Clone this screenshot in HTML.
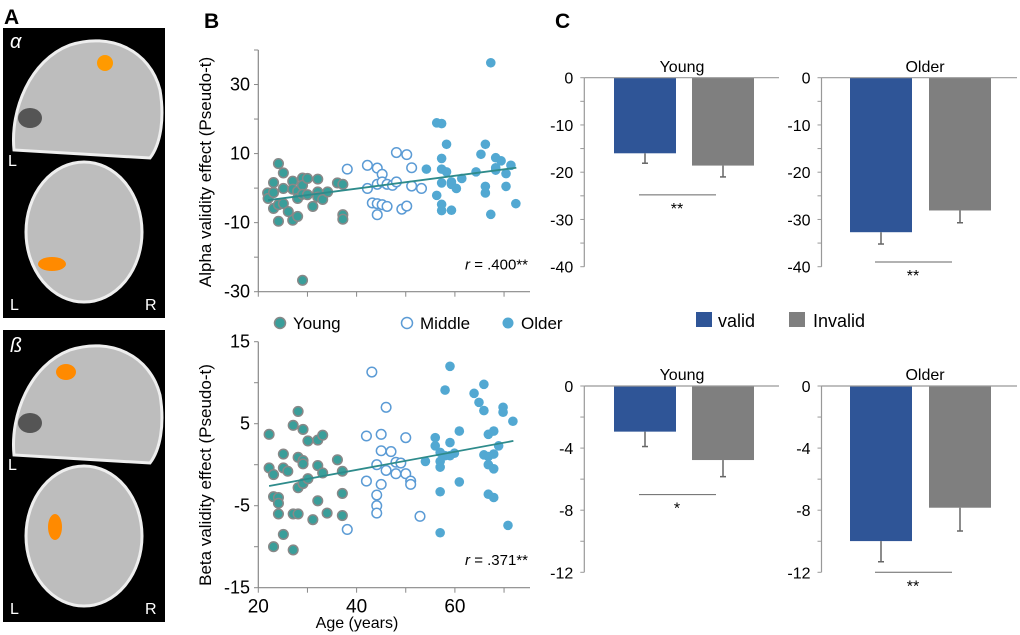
<!DOCTYPE html>
<html><head><meta charset="utf-8"><style>
html,body{margin:0;padding:0;background:#fff;}
svg{display:block;font-family:"Liberation Sans",sans-serif;}
</style></head><body>
<svg id="fig" width="1020" height="635" viewBox="0 0 1020 635" xmlns="http://www.w3.org/2000/svg">
<g>
 <text x="4" y="24" font-size="21" font-weight="bold">A</text>
 <rect x="3" y="28" width="162" height="290" fill="#000"/>
 <path d="M14,150 C10,110 30,60 70,45 C110,32 150,50 160,90 C165,120 160,145 150,158 L14,150Z" fill="#bdbdbd" stroke="#eee" stroke-width="3"/>
 <ellipse cx="30" cy="118" rx="12" ry="10" fill="#555"/>
 <ellipse cx="105" cy="63" rx="8" ry="8" fill="#ff9a00"/>
 <ellipse cx="84" cy="232" rx="58" ry="70" fill="#bdbdbd" stroke="#eee" stroke-width="3"/>
 <ellipse cx="52" cy="264" rx="14" ry="7" fill="#ff8a00"/>
 <text x="10" y="48" font-size="20" font-style="italic" fill="#fff">α</text>
 <text x="8" y="166" font-size="16" fill="#fff">L</text>
 <text x="10" y="310" font-size="16" fill="#fff">L</text>
 <text x="145" y="310" font-size="16" fill="#fff">R</text>
 <rect x="3" y="330" width="162" height="292" fill="#000"/>
 <path d="M14,455 C10,415 30,365 70,350 C110,337 150,355 160,395 C165,425 160,450 150,463 L14,455Z" fill="#bdbdbd" stroke="#eee" stroke-width="3"/>
 <ellipse cx="30" cy="423" rx="12" ry="10" fill="#555"/>
 <ellipse cx="66" cy="372" rx="10" ry="8" fill="#ff8a00"/>
 <ellipse cx="84" cy="536" rx="58" ry="70" fill="#bdbdbd" stroke="#eee" stroke-width="3"/>
 <ellipse cx="55" cy="527" rx="7" ry="13" fill="#ff8a00"/>
 <text x="10" y="352" font-size="20" font-style="italic" fill="#fff">ß</text>
 <text x="8" y="470" font-size="16" fill="#fff">L</text>
 <text x="10" y="614" font-size="16" fill="#fff">L</text>
 <text x="145" y="614" font-size="16" fill="#fff">R</text>
</g>
<text x="204" y="28" font-size="21" font-weight="bold">B</text>
<text x="555" y="28" font-size="21" font-weight="bold">C</text>
<g id="scatter"></g>
<g id="bars"></g>
<g>
 <circle cx="280" cy="323" r="5.5" fill="#3a9e9a" stroke="#888" stroke-width="1.5"/>
 <text x="293" y="329" font-size="17">Young</text>
 <circle cx="407" cy="323" r="5.5" fill="#fff" stroke="#5b9bd5" stroke-width="1.5"/>
 <text x="420" y="329" font-size="17">Middle</text>
 <circle cx="508" cy="323" r="5.5" fill="#52a8d2"/>
 <text x="521" y="329" font-size="17">Older</text>
</g>
<g>
 <rect x="696" y="312" width="16" height="15" fill="#2f5597"/>
 <text x="718" y="327" font-size="18">valid</text>
 <rect x="789" y="312" width="16" height="15" fill="#7f7f7f"/>
 <text x="813" y="327" font-size="18">Invalid</text>
</g>
</svg>
<script>
const alphaYoungAge=[21.9,22.0,23.1,23.1,23.1,24.1,24.1,24.1,25.1,25.1,25.1,26.1,27.0,27.0,27.0,28.0,28.0,28.0,29.0,29.0,29.0,29.0,30.0,30.0,31.1,32.1,32.1,32.1,33.1,34.1,36.1,37.2,37.2,37.2];
const alphaYoungVal=[-1.4,-3.0,1.6,-1.3,-5.9,7.1,-4.8,-9.6,4.4,-0.1,-4.5,-6.8,2.0,-0.3,-9.3,-0.9,-3.0,-8.2,2.9,0.8,-1.8,-26.7,2.8,-1.9,-5.3,2.6,-1.1,-2.6,-3.3,-1.1,1.5,1.1,-7.7,-9.0];
const alphaMiddleAge=[38.1,42.2,42.2,43.2,44.2,44.2,44.2,44.2,45.2,45.2,45.2,46.2,46.2,47.3,48.1,48.1,49.2,50.2,50.2,51.2,51.2,53.2];
const alphaMiddleVal=[5.5,6.6,-0.1,-4.3,5.8,1.1,-4.5,-7.7,4.0,1.8,-4.8,1.1,-5.3,0.8,10.3,1.8,-6.1,9.7,-5.2,5.9,0.6,-0.1];
const alphaOlderAge=[54.2,56.3,56.3,57.3,57.3,57.3,57.3,57.3,57.3,58.3,58.3,59.3,59.3,59.3,60.3,61.4,64.3,65.3,66.2,66.2,66.2,67.3,67.3,68.3,68.3,68.3,69.4,70.4,70.4,71.4,72.4];
const alphaOlderVal=[5.5,18.9,-2.1,18.7,8.6,5.5,1.5,-4.7,-6.5,12.7,4.7,1.8,1.1,-6.4,-0.1,2.8,4.7,9.8,12.7,0.5,-1.4,36.3,-7.6,8.8,5.9,5.2,7.9,4.2,0.5,6.6,-4.5];
const alphaFitAge=[22.0,72.5];
const alphaFitVal=[-3.5,5.9];
const betaYoungAge=[22.2,22.2,23.1,23.1,23.1,24.1,24.1,24.1,25.1,25.1,25.1,26.0,27.1,27.1,27.1,28.1,28.1,28.1,28.1,29.1,29.1,29.1,29.1,30.1,30.1,31.1,32.1,32.1,32.1,33.1,33.1,34.0,36.1,37.1,37.1,37.1];
const betaYoungVal=[3.7,-0.4,-1.2,-3.9,-10.0,-4.0,-4.7,-6.0,1.3,-0.4,-8.5,-0.8,4.8,-6.0,-10.4,6.5,0.9,-2.8,-6.0,4.3,0.5,0.1,-2.3,2.9,-1.7,-6.7,3.0,-0.1,-4.4,3.6,-1.0,-5.9,0.6,-0.8,-3.5,-6.2];
const betaMiddleAge=[38.1,42.0,42.0,43.1,44.1,44.1,44.1,44.1,45.0,45.0,45.0,46.0,46.0,47.0,48.0,48.0,49.0,50.0,50.0,51.0,51.0,52.9];
const betaMiddleVal=[-7.9,-2.0,3.5,11.3,0.0,-3.7,-5.0,-5.9,3.7,1.7,-2.4,7.0,-0.7,1.6,0.3,-1.1,0.2,3.3,-1.1,-2.0,-2.4,-6.3];
const betaOlderAge=[54.0,56.0,56.0,57.0,57.0,57.0,57.0,57.0,58.0,58.0,59.0,59.0,59.0,59.9,60.9,60.9,63.9,64.9,65.9,65.9,65.9,66.8,66.8,66.8,66.8,67.9,67.9,67.9,67.9,68.9,69.8,69.8,70.8,71.8];
const betaOlderVal=[0.4,3.3,2.3,1.5,0.4,-0.3,-3.3,-8.3,9.1,1.1,12.0,2.7,1.1,1.4,4.1,-2.1,8.7,7.6,9.8,6.6,1.2,3.7,1.0,0.0,-3.6,4.1,1.3,-0.5,-4.0,2.3,7.0,6.4,-7.4,5.3];
const betaFitAge=[22.2,71.9];
const betaFitVal=[-2.6,2.9];
const xTicks=[20,40,60];
const alphaTicks=[30,10,-10,-30];
const betaTicks=[15,5,-5,-15];
const barGroups=["Young","Older"];
const alphaValid=[-16.0,-32.7];
const alphaValidErr=[2.1,2.5];
const alphaInvalid=[-18.6,-28.1];
const alphaInvalidErr=[2.4,2.6];
const betaValid=[-2.94,-9.99];
const betaValidErr=[0.96,1.33];
const betaInvalid=[-4.77,-7.84];
const betaInvalidErr=[1.07,1.5];
const alphaBarTicks=[0,-10,-20,-30,-40];
const betaBarTicks=[0,-4,-8,-12];
const alphaSig=["**","**"];
const betaSig=["*","**"];

const NS="http://www.w3.org/2000/svg";
function mk(p,t,a){const e=document.createElementNS(NS,t);for(const k in a)e.setAttribute(k,a[k]);p.appendChild(e);return e;}
const sc=document.getElementById('scatter');
const ax=a=>258.3+(a-20)*4.915;

function scatterPlot(name,top,bottom,vmax,vmin,step,ticks,ages,vals,fitA,fitV,rtext,showX){
 const g=mk(sc,'g',{});
 
 
 const ay=v=>top+(vmax-v)/(vmax-vmin)*(bottom-top);
 mk(g,'line',{x1:258.3,y1:top,x2:258.3,y2:bottom,stroke:'#888','stroke-width':1.2});
 mk(g,'line',{x1:258.3,y1:bottom,x2:530,y2:bottom,stroke:'#888','stroke-width':1.2});
 for(let v=vmin;v<=vmax+0.01;v+=step){mk(g,'line',{x1:254,y1:ay(v),x2:258.3,y2:ay(v),stroke:'#888'});}
 for(let a=20;a<=70;a+=10){mk(g,'line',{x1:ax(a),y1:bottom,x2:ax(a),y2:bottom+5,stroke:'#888'});}
 ticks.forEach(t=>{const e=mk(g,'text',{x:250,y:ay(t)+6,'font-size':18,'text-anchor':'end'});e.textContent=t;
  
  });
 if(showX){xTicks.forEach(t=>{const e=mk(g,'text',{x:ax(t),y:bottom+25,'font-size':19,'text-anchor':'middle'});e.textContent=t;
  
  });}
 const styles=[{fill:'#3a9e9a',stroke:'#888','stroke-width':1.5},{fill:'#fff',stroke:'#5b9bd5','stroke-width':1.5},{fill:'#52a8d2',stroke:'none'}];
 const grp=['young','middle','older'];
 for(let s=0;s<3;s++){for(let i=0;i<ages[s].length;i++){
  const c=mk(g,'circle',Object.assign({cx:ax(ages[s][i]),cy:ay(vals[s][i]),r:4.8},styles[s]));
  
  }}
 const l=mk(g,'line',{x1:ax(fitA[0]),y1:ay(fitV[0]),x2:ax(fitA[1]),y2:ay(fitV[1]),stroke:'#2e8b8b','stroke-width':1.8});
 
 
 const r=mk(g,'text',{x:528,y:bottom-(bottom-top)*0.1+2,'font-size':15,'text-anchor':'end'});
 r.innerHTML='<tspan font-style="italic">r</tspan> = '+rtext;
 
 
 return g;
}
scatterPlot('alpha',50,291.7,40,-30,10,alphaTicks,[alphaYoungAge,alphaMiddleAge,alphaOlderAge],[alphaYoungVal,alphaMiddleVal,alphaOlderVal],alphaFitAge,alphaFitVal,'.400**',false);
scatterPlot('beta',341.7,587.7,15,-15,5,betaTicks,[betaYoungAge,betaMiddleAge,betaOlderAge],[betaYoungVal,betaMiddleVal,betaOlderVal],betaFitAge,betaFitVal,'.371**',true);

function yl(text,cx,cy,name){const e=mk(sc,'text',{x:cx,y:cy,'font-size':17,'text-anchor':'middle',transform:`rotate(-90 ${cx} ${cy})`});e.textContent=text;
 
 }
yl('Alpha validity effect (Pseudo-t)',211,172,'alpha-y-axis-title');
yl('Beta validity effect (Pseudo-t)',211,475,'beta-y-axis-title');
const xt=mk(sc,'text',{x:357,y:628,'font-size':16,'text-anchor':'middle'});xt.textContent='Age (years)';



const bg=document.getElementById('bars');
const panelX=[{axis:584.3,end:779,v:614,i:692,w:62,tx:682},{axis:821.5,end:1017,v:850,i:929,w:62,tx:925}];
function barPanel(name,zeroY,minV,bottomY,ticks,minorStep,valid,validErr,invalid,invalidErr,sig,titleY){
 const ay=v=>zeroY+(v/minV)*(bottomY-zeroY);
 for(let k=0;k<2;k++){
  const P=panelX[k];
  const g=mk(bg,'g',{});
  
  
  const t=mk(g,'text',{x:P.tx,y:titleY,'font-size':16,'text-anchor':'middle'});t.textContent=barGroups[k];
  mk(g,'line',{x1:P.axis,y1:zeroY,x2:P.axis,y2:bottomY,stroke:'#999','stroke-width':1.2});
  for(let v=0;v>=minV-0.01;v-=minorStep){mk(g,'line',{x1:P.axis-4,y1:ay(v),x2:P.axis,y2:ay(v),stroke:'#999'});}
  ticks.forEach(tv=>{const e=mk(g,'text',{x:P.axis-11,y:ay(tv)+6,'font-size':16,'text-anchor':'end'});e.textContent=tv;});
  const vb=mk(g,'rect',{x:P.v,y:zeroY,width:P.w,height:ay(valid[k])-zeroY,fill:'#2f5597'});
  
  
  const ib=mk(g,'rect',{x:P.i,y:zeroY,width:P.w,height:ay(invalid[k])-zeroY,fill:'#7f7f7f'});
  
  
  [[P.v,valid[k],validErr[k]],[P.i,invalid[k],invalidErr[k]]].forEach(([x,v,e])=>{
   const cx=x+P.w/2;
   mk(g,'line',{x1:cx,y1:ay(v),x2:cx,y2:ay(v-e),stroke:'#666','stroke-width':1.5});
   mk(g,'line',{x1:cx-3,y1:ay(v-e),x2:cx+3,y2:ay(v-e),stroke:'#666','stroke-width':1.5});
  });
  mk(g,'line',{x1:P.axis,y1:zeroY,x2:P.end,y2:zeroY,stroke:'#999','stroke-width':1.2});
  const low=Math.min(valid[k]-validErr[k],invalid[k]-invalidErr[k]);
  let sy=ay(low)+18; if(sy>bottomY-3) sy=bottomY;
  const sl=mk(g,'line',{x1:P.v+25,y1:sy,x2:P.v+102,y2:sy,stroke:'#666'});
  
  
  const st=mk(g,'text',{x:P.v+63,y:sy+19,'font-size':16,'text-anchor':'middle'});st.textContent=sig[k];
  
  
 }
}
barPanel('alpha',77.7,-40,266.7,alphaBarTicks,5,alphaValid,alphaValidErr,alphaInvalid,alphaInvalidErr,alphaSig,72);
barPanel('beta',386,-12,572.3,betaBarTicks,2,betaValid,betaValidErr,betaInvalid,betaInvalidErr,betaSig,380);
</script>
</body></html>
